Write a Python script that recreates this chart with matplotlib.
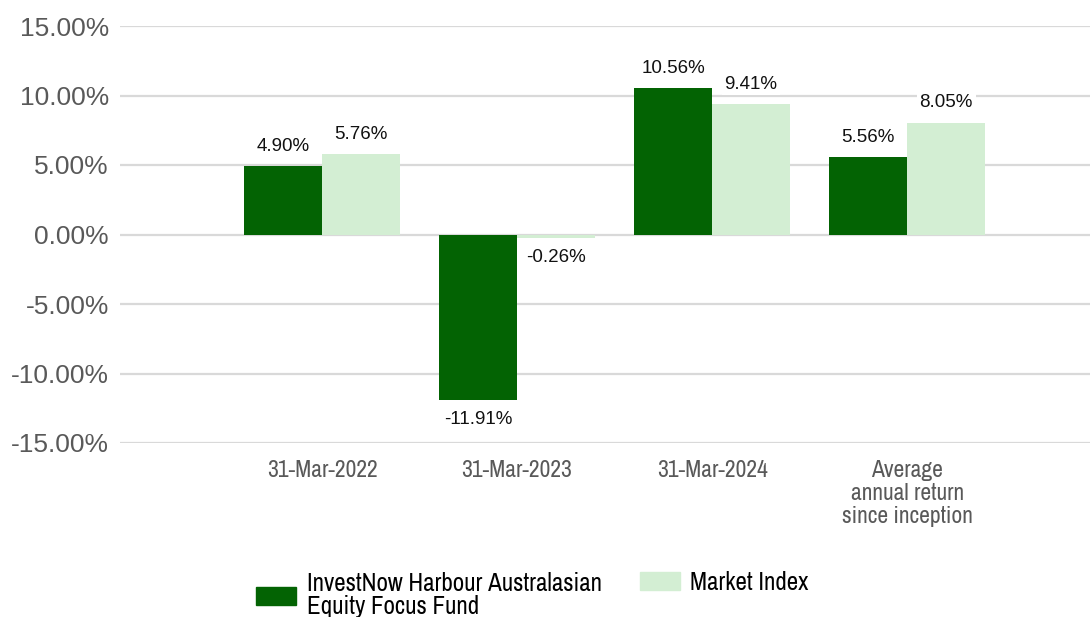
import numpy as np, matplotlib; matplotlib.use("Agg"); import matplotlib.pyplot as plt
from matplotlib.patches import Rectangle

plt.rcParams.update({"font.family": ["Liberation Sans", "DejaVu Sans"]})
NARROW = ["Archivo Narrow", "Liberation Sans", "DejaVu Sans"]

categories = ["31-Mar-2022", "31-Mar-2023", "31-Mar-2024", "Average\nannual return\nsince inception"]
fund = [4.90, -11.91, 10.56, 5.56]
index = [5.76, -0.26, 9.41, 8.05]
series_names = ["InvestNow Harbour Australasian\nEquity Focus Fund", "Market Index"]
yticks = [-15, -10, -5, 0, 5, 10, 15]

DARK, LIGHT, GRID, GREY = "#036303", "#d3eed3", "#d9d9d9", "#595959"
W, H = 1090, 617

fig = plt.figure(figsize=(W/100, H/100), dpi=100)
ax = fig.add_axes([120/W, 1-443/H, 1-120/W, (443-26)/H])
x = np.arange(len(categories))
w = 0.4
b1 = ax.bar(x-w/2, fund, w, color=DARK, zorder=3)
b2 = ax.bar(x+w/2, index, w, color=LIGHT, zorder=3)

for bars, vals in ((b1, fund), (b2, index)):
    for r, v in zip(bars, vals):
        cx = r.get_x()+r.get_width()/2
        off = 8 if v >= 0 else -8
        ax.annotate(f"{v:.2f}%", (cx, v), xytext=(0, off), textcoords="offset points",
                    ha="center", va="bottom" if v >= 0 else "top", fontsize=13.5, color="#111111",
                    bbox=dict(boxstyle="square,pad=0.15", fc="white", ec="none"), zorder=4)

ax.set_ylim(-15, 15)
ax.set_xlim(-1.036, 3.938)
ax.set_yticks(yticks)
ax.set_yticklabels([f"{t:.2f}%" for t in yticks], fontsize=19, color=GREY)
ax.set_xticks(x)
ax.set_xticklabels(categories, family=NARROW, fontsize=17, color=GREY, linespacing=1.12)
ax.tick_params(length=0)
ax.tick_params(axis="x", pad=12)
ax.tick_params(axis="y", pad=8)
ax.grid(axis="y", color=GRID, lw=1.6, zorder=0)
for s in ax.spines.values(): s.set_visible(False)

# legend drawn by hand so the single-line entry sits on the first row
def px(x0, y0): return x0/W, 1-y0/H
for (hx, hy, tx, ty), name, col in zip([(256, 605, 307, 595), (640, 590, 690, 582.5)], series_names, [DARK, LIGHT]):
    fig.add_artist(Rectangle(px(hx, hy), 40/W, 18/H, transform=fig.transFigure, color=col))
    fig.text(*px(tx, ty), name, family=NARROW, fontsize=18, va="center", ha="left", linespacing=1.05)

fig.savefig("out.png", dpi=100)
